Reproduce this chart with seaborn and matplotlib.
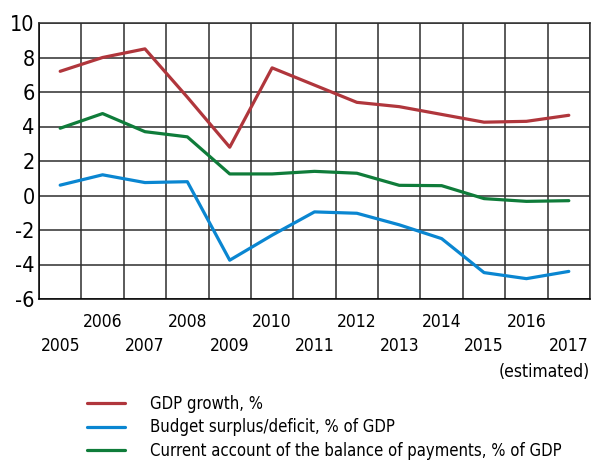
import numpy as np
import pandas as pd
import matplotlib.pyplot as plt
import seaborn as sns
from matplotlib.lines import Line2D

# ==============================
# Data
# ==============================
years = list(range(2005, 2018))
gdp_growth = [7.2, 8.0, 8.5, 5.7, 2.8, 7.4, 6.4, 5.4, 5.15, 4.7, 4.25, 4.3, 4.65]
budget_balance = [0.6, 1.2, 0.75, 0.8, -3.75, -2.3, -0.95, -1.03, -1.7, -2.5, -4.47, -4.82, -4.4]
current_account = [3.9, 4.75, 3.7, 3.4, 1.25, 1.25, 1.4, 1.29, 0.59, 0.57, -0.18, -0.34, -0.3]
series_names = [
    "GDP growth, %",
    "Budget surplus/deficit, % of GDP",
    "Current account of the balance of payments, % of GDP",
]
colors = ["#b0363c", "#0a86d1", "#0f7c3a"]

df = pd.DataFrame({
    "year": years * 3,
    "value": gdp_growth + budget_balance + current_account,
    "series": np.repeat(series_names, len(years)),
})

sns.set_style("white")
plt.rcParams["font.family"] = ["DejaVu Sans"]
plt.rcParams["font.stretch"] = "condensed"
plt.rcParams["axes.unicode_minus"] = False
plt.rcParams["text.color"] = "black"
plt.rcParams["ytick.color"] = "black"

fig = plt.figure(figsize=(5.92, 4.62), dpi=100)
ax = fig.add_axes([39 / 592, 1 - 299 / 462, 551 / 592, 276 / 462])

sns.lineplot(data=df, x="year", y="value", hue="series", palette=colors,
             linewidth=2.3, ax=ax, legend=False, zorder=3)

# grid: vertical lines between years, horizontal every 2
ax.set_xlim(2004.5, 2017.5)
ax.set_ylim(-6, 10)
ax.set_xticks(np.arange(2004.5, 2018, 1), minor=True)
ax.set_xticks(years)
ax.set_yticks(range(-6, 11, 2))
ax.grid(False)
ax.grid(True, which="minor", axis="x", color="#2e2e2e", linewidth=1.1)
ax.grid(True, which="major", axis="y", color="#2e2e2e", linewidth=1.1)
for s in ax.spines.values():
    s.set_color("#2e2e2e")
    s.set_linewidth(1.1)
ax.spines["left"].set_color("black")
ax.spines["bottom"].set_color("black")

ax.tick_params(axis="x", which="both", length=0)
ax.tick_params(axis="y", length=0, labelsize=15.5, pad=3)
ax.set_xticklabels([])
ax.set_xlabel("")
ax.set_ylabel("")

# year labels in two staggered rows
for yr in years:
    off = 23 if yr % 2 == 0 else 47
    ax.annotate(str(yr), xy=(yr, 0), xycoords=("data", "axes fraction"),
                xytext=(0, -off * 0.72), textcoords="offset points",
                ha="center", va="center", fontsize=12.5)
ax.annotate("(estimated)", xy=(1.0, 0), xycoords="axes fraction",
            xytext=(0, -73 * 0.72), textcoords="offset points",
            ha="right", va="center", fontsize=12.5)

handles = [Line2D([], [], color=c, linewidth=2.3) for c in colors]
fig.legend(handles, series_names, loc="upper left", bbox_to_anchor=(87 / 592, 1 - 395 / 462),
           frameon=False, fontsize=12, handlelength=2.3, handletextpad=1.5,
           labelspacing=0.33, borderpad=0, borderaxespad=0)

fig.savefig("out.png", dpi=100)
